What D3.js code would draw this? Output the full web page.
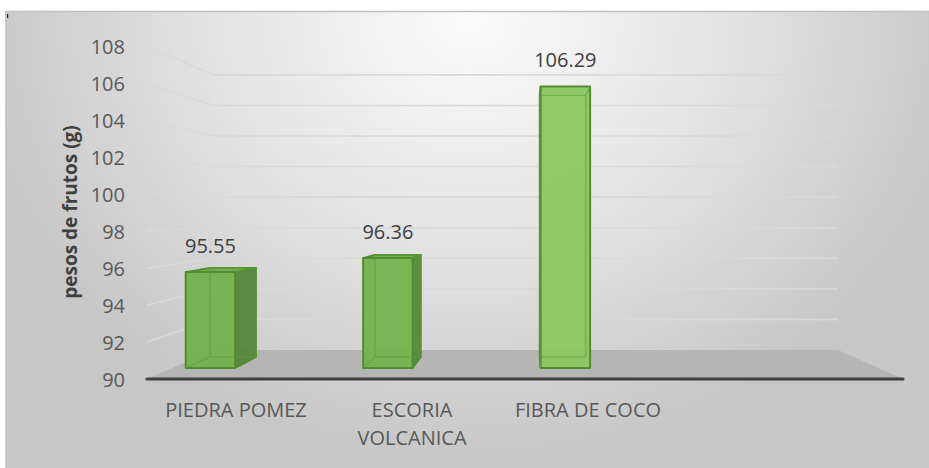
<!DOCTYPE html>
<html>
<head>
<meta charset="utf-8">
<script src="https://cdn.jsdelivr.net/npm/d3@7"></script>
<style>
  html, body { margin: 0; padding: 0; background: #ffffff; }
  svg { display: block; }
  text { font-family: "Open Sans", "Noto Sans", sans-serif; }
</style>
</head>
<body>
<svg id="chart" width="929" height="468"></svg>
<script>
// Fruit weight per substrate
const categories = ["PIEDRA POMEZ", "ESCORIA VOLCANICA", "FIBRA DE COCO"];
const values = [95.55, 96.36, 106.29];
const yTicks = [90, 92, 94, 96, 98, 100, 102, 104, 106, 108];
const yTitle = "pesos de frutos (g)";
const slotCount = 4; // category slots on the floor (last one left empty)

const W = 929, H = 468;
const svg = d3.select("#chart");

// ---- perspective set-up -------------------------------------------------
const eye = { x: 528, y: 212 };                       // vanishing point
const y = d3.scaleLinear().domain([90, 108]).range([379, 46]);   // front plane
const depth = d3.scaleLinear().domain([0, 1]).range([1, 0.826]); // shrink with depth
const floorX = [147, 903];
const xBar = d3.scalePoint().domain(d3.range(slotCount)).range([188, 758]);
const xLabel = d3.scalePoint().domain(d3.range(slotCount)).range([236, 764]);
const barHalf = 26.5;
const barDepth = [0.38, 0.76];

function P(xf, yf, z) {
  const s = depth(z);
  return [eye.x + (xf - eye.x) * s, eye.y + (yf - eye.y) * s];
}
const poly = pts => "M" + pts.map(p => p[0].toFixed(2) + "," + p[1].toFixed(2)).join("L") + "Z";
const seg = (a, b) => "M" + a[0] + "," + a[1] + "L" + b[0] + "," + b[1];

// ---- background ---------------------------------------------------------
const defs = svg.append("defs");
const bg = defs.append("radialGradient").attr("id", "bg")
  .attr("gradientUnits", "userSpaceOnUse")
  .attr("cx", 470).attr("cy", 20).attr("r", 500)
  .attr("gradientTransform", "translate(470,20) scale(1,0.88) translate(-470,-20)");
bg.append("stop").attr("offset", 0).attr("stop-color", "#fbfbfb");
bg.append("stop").attr("offset", 0.5).attr("stop-color", "#e4e4e4");
bg.append("stop").attr("offset", 1).attr("stop-color", "#c7c7c7");

svg.append("rect").attr("width", W).attr("height", H).attr("fill", "#ffffff");
svg.append("rect").attr("x", 6).attr("y", 11.5).attr("width", W - 6).attr("height", H - 11.5)
  .attr("fill", "url(#bg)");
svg.append("path").attr("d", `M6,${H}L6,11.5L${W},11.5`)
  .attr("fill", "none").attr("stroke", "#bfbfbf").attr("stroke-width", 1.5);
svg.append("rect").attr("x", 7).attr("y", 14).attr("width", 1.2).attr("height", 4).attr("fill", "#222");

// ---- walls: gridlines on the side wall and back wall ---------------------
const grid = svg.append("g").attr("fill", "none").attr("stroke", "#d9d9d9").attr("stroke-width", 1.6);
yTicks.filter(v => v > 90).forEach(v => {
  const a = P(floorX[0], y(v), 0), b = P(floorX[0], y(v), 1), c = P(floorX[1], y(v), 1);
  grid.append("path").attr("d", seg(a, b) + "L" + c[0] + "," + c[1]);
});

// ---- floor ---------------------------------------------------------------
svg.append("path")
  .attr("d", poly([P(floorX[0], y(90), 0), P(floorX[0], y(90), 1), P(floorX[1], y(90), 1), P(floorX[1], y(90), 0)]))
  .attr("fill", "#b5b5b5");
svg.append("line")
  .attr("x1", floorX[0]).attr("x2", floorX[1]).attr("y1", y(90)).attr("y2", y(90))
  .attr("stroke", "#3f3f3f").attr("stroke-width", 3.2).attr("stroke-linecap", "round");

// ---- y tick labels --------------------------------------------------------
svg.append("g").selectAll("text").data(yTicks).join("text")
  .attr("x", 125).attr("y", d => y(d))
  .attr("text-anchor", "end").attr("dominant-baseline", "central")
  .attr("font-size", 20).attr("fill", "#595959")
  .text(d => d);

svg.append("text")
  .attr("transform", "translate(70,212) rotate(-90)")
  .attr("text-anchor", "middle").attr("dominant-baseline", "central")
  .attr("font-size", 19).attr("font-weight", "bold").attr("fill", "#404040")
  .text(yTitle);

// ---- 3D columns -----------------------------------------------------------
const frontBase = "#74b14e", frontLit = "#90cd63";
const bars = svg.append("g");
values.forEach((v, i) => {
  const cx = xBar(i), x0 = cx - barHalf, x1 = cx + barHalf;
  const yt = y(v), yb = y(90);
  const [z0, z1] = barDepth;
  const FLT = P(x0, yt, z0), FRT = P(x1, yt, z0), FLB = P(x0, yb, z0), FRB = P(x1, yb, z0);
  const BLT = P(x0, yt, z1), BRT = P(x1, yt, z1), BLB = P(x0, yb, z1), BRB = P(x1, yb, z1);
  const g = bars.append("g");
  const edge = "#4f8d2e";

  // side face toward the eye
  if (x1 < eye.x) {
    g.append("path").attr("d", poly([FRT, BRT, BRB, FRB]))
      .attr("fill", "#55883a").attr("fill-opacity", 0.95)
      .attr("stroke", edge).attr("stroke-width", 1.8).attr("stroke-linejoin", "round");
  } else if (x0 > eye.x) {
    g.append("path").attr("d", poly([FLT, BLT, BLB, FLB]))
      .attr("fill", "#55883a").attr("fill-opacity", 0.95)
      .attr("stroke", edge).attr("stroke-width", 1.8).attr("stroke-linejoin", "round");
  }
  // top face when it lies below eye level
  if (yt > eye.y) {
    g.append("path").attr("d", poly([FLT, FRT, BRT, BLT]))
      .attr("fill", "#6fab4a").attr("fill-opacity", 0.95)
      .attr("stroke", edge).attr("stroke-width", 1.8).attr("stroke-linejoin", "round");
  }
  // front face, lit more strongly the closer it faces the viewer
  const dist = Math.abs((FLT[0] + FRT[0]) / 2 - eye.x);
  const lit = Math.exp(-Math.pow(dist / 80, 2));
  g.append("path").attr("d", poly([FLT, FRT, FRB, FLB]))
    .attr("fill", d3.interpolateRgb(frontBase, frontLit)(lit)).attr("fill-opacity", 0.96)
    .attr("stroke", edge).attr("stroke-width", 2).attr("stroke-linejoin", "round");
  // inner back edges glimpsed through the translucent column
  g.append("path")
    .attr("d", seg(BLT, BLB) + seg(BLB, BRB) + seg(BRB, BRT) + seg(BLT, BRT) + seg(FRT, BRT) + seg(FLB, BLB))
    .attr("fill", "none").attr("stroke", "#5f9f3c").attr("stroke-width", 1.4).attr("opacity", 0.6);

  // value label
  g.append("text")
    .attr("x", (FLT[0] + FRT[0]) / 2).attr("y", FLT[1] - 27)
    .attr("text-anchor", "middle").attr("dominant-baseline", "central")
    .attr("font-size", 20).attr("fill", "#404040")
    .text(v.toFixed(2));
});

// ---- category labels (wrapped) -------------------------------------------
const catG = svg.append("g");
categories.forEach((c, i) => {
  const t = catG.append("text")
    .attr("x", xLabel(i)).attr("y", 417)
    .attr("text-anchor", "middle").attr("font-size", 20).attr("fill", "#595959");
  const words = c.split(" ");
  let line = [];
  let tspan = t.append("tspan").attr("x", xLabel(i)).attr("dy", 0);
  words.forEach(w => {
    line.push(w);
    tspan.text(line.join(" "));
    if (tspan.node().getComputedTextLength() > 165 && line.length > 1) {
      line.pop();
      tspan.text(line.join(" "));
      line = [w];
      tspan = t.append("tspan").attr("x", xLabel(i)).attr("dy", 28).text(w);
    }
  });
});
</script>
</body>
</html>
